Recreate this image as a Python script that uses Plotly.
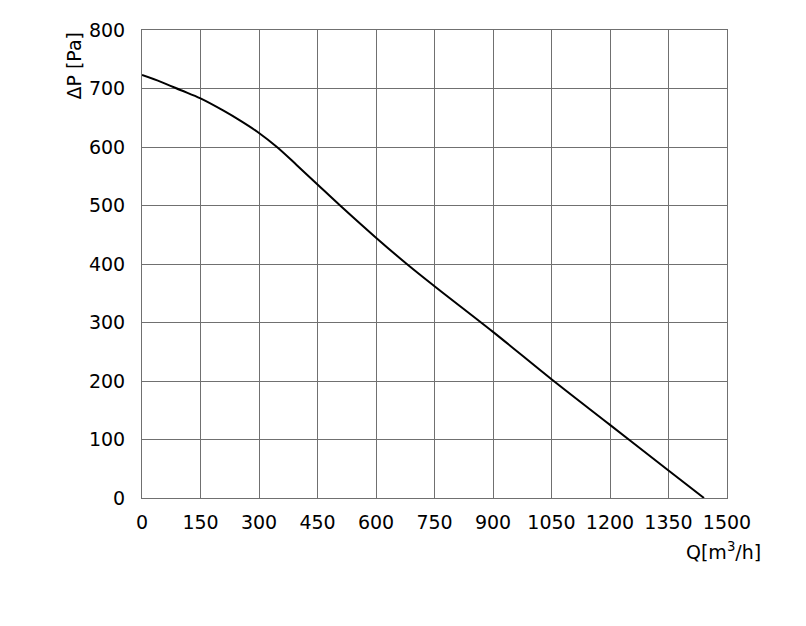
import plotly.graph_objects as go

# fan curve
flow = [0, 50, 100, 150, 209, 252, 300, 346, 397, 450, 508, 600, 679, 750, 900, 1050, 1200, 1350, 1441]
pressure = [723, 711, 697, 683, 662, 645, 624, 600, 569, 536, 500, 445, 400, 362, 284, 203, 125, 47, 0]

x_ticks = list(range(0, 1501, 150))
y_ticks = list(range(0, 801, 100))

fig = go.Figure()
fig.add_trace(go.Scatter(x=flow, y=pressure, mode="lines",
                         line=dict(color="black", width=2, shape="spline", smoothing=1.0),
                         hoverinfo="skip"))

axis_font = dict(family="DejaVu Sans", size=19, color="black")

# the page body adds an 8px offset, so margins are shifted by that much
fig.update_layout(
    width=790, height=610,
    margin=dict(l=134, r=71, t=22, b=120),
    plot_bgcolor="white", paper_bgcolor="white",
    showlegend=False,
    font=axis_font,
    xaxis=dict(range=[0, 1500], tickvals=x_ticks, showgrid=True, gridcolor="#707070", gridwidth=1,
               zeroline=False, showline=True, linecolor="#707070", linewidth=1, mirror=True,
               ticks="", ticklabelstandoff=7, tickfont=axis_font),
    yaxis=dict(range=[0, 800], tickvals=y_ticks, showgrid=True, gridcolor="#707070", gridwidth=1,
               zeroline=False, showline=True, linecolor="#707070", linewidth=1, mirror=True,
               ticks="", ticklabelstandoff=12, tickfont=axis_font),
    annotations=[
        dict(text="ΔP [Pa]", xref="paper", yref="paper", x=-0.117, y=1.0, xanchor="center",
             yanchor="top", textangle=-90, showarrow=False, font=axis_font),
        dict(text="Q[m<sup>3</sup>/h]", xref="paper", yref="paper", x=1.062, y=-0.113,
             xanchor="right", yanchor="middle", showarrow=False, font=axis_font),
    ],
)

fig.write_html("out.html")
